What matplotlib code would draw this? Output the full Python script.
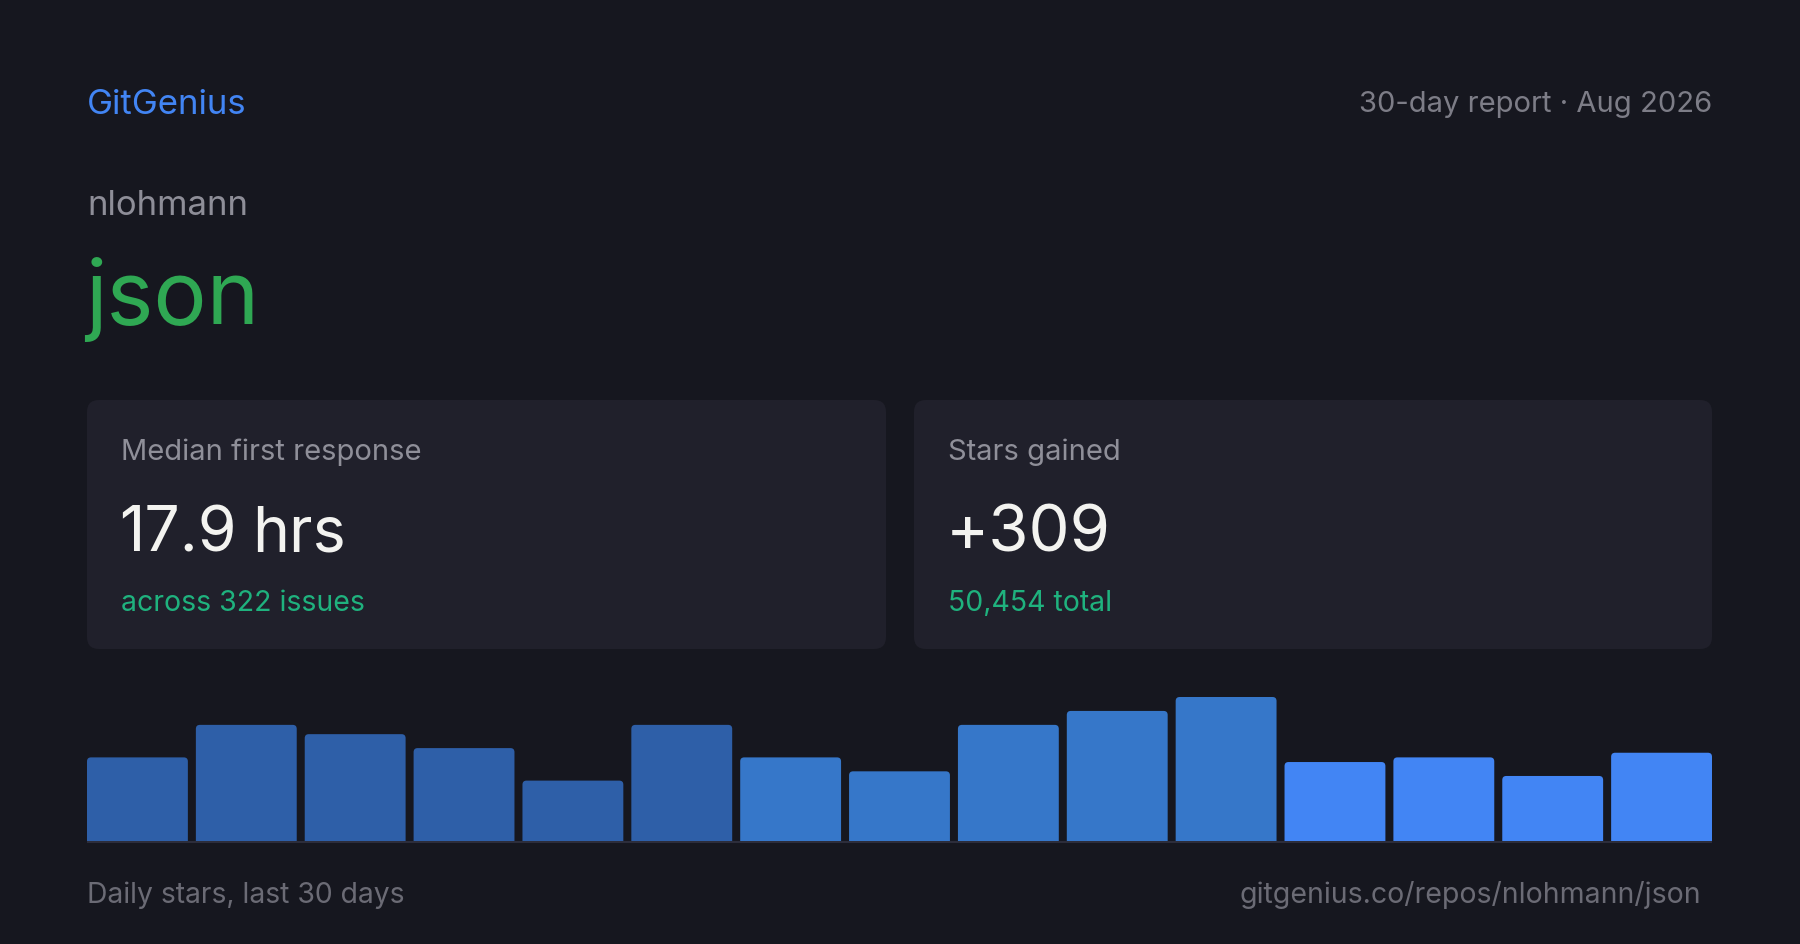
import matplotlib
matplotlib.use("Agg")
import matplotlib.pyplot as plt
from matplotlib.patches import FancyBboxPatch

plt.rcParams['font.family'] = ['Inter', 'DejaVu Sans']

# data
daily_stars = [18, 25, 23, 20, 13, 25, 18, 15, 25, 28, 31, 17, 18, 14, 19]
bar_groups = [0, 0, 0, 0, 0, 0, 1, 1, 1, 1, 1, 2, 2, 2, 2]
group_colors = ['#2e5fa8', '#3677c9', '#4285f4']

brand = "GitGenius"
report = "30-day report \u00b7 Aug 2026"
owner = "nlohmann"
repo = "json"
card_labels = ["Median first response", "Stars gained"]
card_numbers = ["17.9", "+309"]
card_units = ["hrs", ""]
card_subs = ["across 322 issues", "50,454 total"]
footer_left = "Daily stars, last 30 days"
footer_right = "gitgenius.co/repos/nlohmann/json"

W, H = 1800, 945
BG = '#16171f'
CARD = '#20202b'

fig = plt.figure(figsize=(W / 100, H / 100), dpi=100, facecolor=BG)

# overlay axes in pixel coordinates (y down)
ov = fig.add_axes([0, 0, 1, 1])
ov.set_xlim(0, W)
ov.set_ylim(H, 0)
ov.axis('off')
ov.set_facecolor(BG)

ov.text(87, 114, brand, fontsize=25, color='#4285f4', va='baseline', ha='left')
ov.text(1712, 112, report, fontsize=21, color='#7d7d87', va='baseline', ha='right')
ov.text(87, 215, owner, fontsize=25, color='#8e8e98', va='baseline', ha='left')
ov.text(85, 324, repo, fontsize=64, color='#2fa853', va='baseline', ha='left')

cards_x = [(87, 886), (914, 1712)]
for (x0, x1), lab, num, unit, sub in zip(cards_x, card_labels, card_numbers,
                                         card_units, card_subs):
    ov.add_patch(FancyBboxPatch((x0, 401), x1 - x0, 249,
                                boxstyle="round,pad=0,rounding_size=12",
                                facecolor=CARD, edgecolor='none'))
    ov.text(x0 + 34, 460, lab, fontsize=21, color='#8f8f99', va='baseline')
    if unit:
        ov.text(x0 + 32, 551, num, fontsize=45, color='#f3f3f0', va='baseline')
        ov.text(x0 + 165, 551, unit, fontsize=45, color='#f3f3f0', va='baseline')
    else:
        ov.text(x0 + 32, 551, num, fontsize=47, color='#f3f3f0', va='baseline')
    ov.text(x0 + 34, 611, sub, fontsize=20.5, color='#1fb27e', va='baseline')

ov.plot([87, 1712], [843, 843], color='#2c2d3b', lw=1.5, solid_capstyle='butt')

ov.text(87, 903, footer_left, fontsize=20.4, color='#6b6b75', va='baseline', ha='left')
ov.text(1701, 903, footer_right, fontsize=20.5, color='#6b6b75', va='baseline', ha='right')

# bar chart
bx0, bx1, by_base, by_top = 87, 1712, 842, 698
ax = fig.add_axes([bx0 / W, (H - by_base) / H, (bx1 - bx0) / W, (by_base - by_top) / H])
ax.patch.set_alpha(0)
gap_px = 8
pitch = (bx1 - bx0 + gap_px) / len(daily_stars)
w = (pitch - gap_px) / pitch
xs = list(range(len(daily_stars)))
colors = [group_colors[g] for g in bar_groups]
bars = ax.bar(xs, daily_stars, width=w, color=colors, edgecolor='none')
ymax = max(daily_stars)
ax.set_xlim(-w / 2, len(daily_stars) - 1 + w / 2)
ax.set_ylim(0, ymax)
ax.axis('off')

# rounded top corners: redraw each bar as a rounded box extending below the baseline
r_px = 4
x_per_px = 1 / pitch
y_per_px = ymax / (by_base - by_top)
aspect = y_per_px / x_per_px
for b in bars:
    b.set_visible(False)
    ext = r_px * y_per_px * 2
    ax.add_patch(FancyBboxPatch((b.get_x(), -ext), b.get_width(), b.get_height() + ext,
                                boxstyle=f"round,pad=0,rounding_size={r_px * x_per_px}",
                                mutation_aspect=aspect,
                                facecolor=b.get_facecolor(), edgecolor='none'))

fig.savefig("out.png", dpi=100, facecolor=BG)
